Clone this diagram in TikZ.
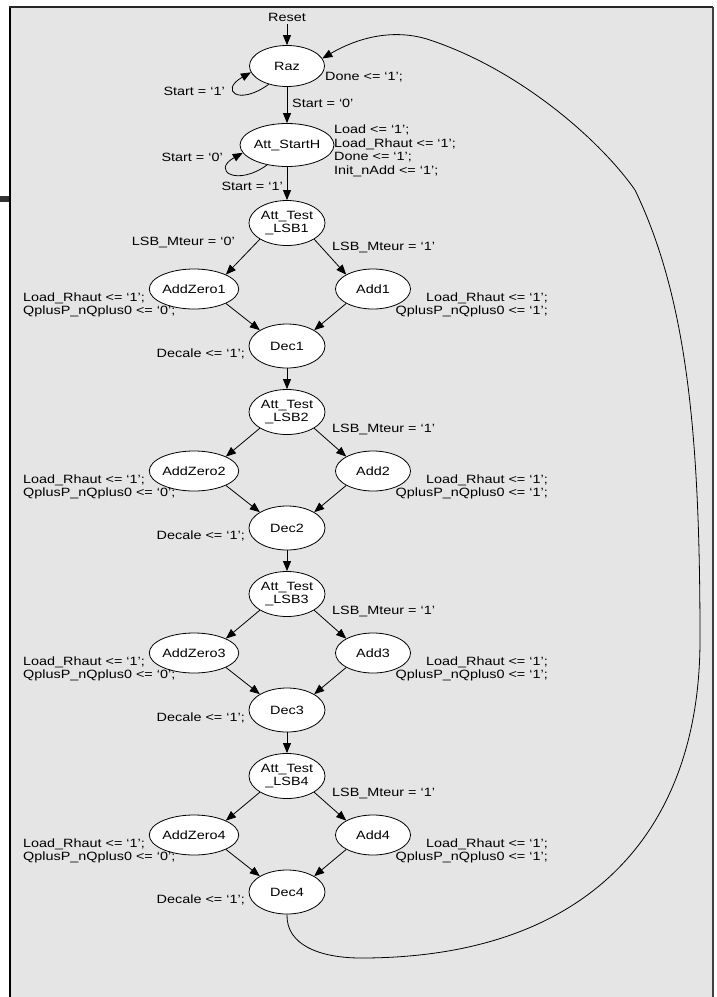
\documentclass[tikz,border=0pt]{standalone}
\usepackage{fontspec}
\setmainfont[FakeStretch=1.2]{Liberation Sans}
\usetikzlibrary{shapes.geometric,arrows.meta}

\begin{document}
\begin{tikzpicture}[x=1pt,y=-1pt,
  state/.style={ellipse,draw,fill=white,line width=0.8pt,inner sep=0pt,
    minimum width=76pt,minimum height=42pt,align=center,
    font=\fontsize{12}{13.5}\selectfont},
  lbl/.style={inner sep=0pt,font=\fontsize{12}{13.5}\selectfont},
  arr/.style={line width=0.8pt,-{Triangle[length=10pt,width=8pt]}}]
\useasboundingbox (0,0) rectangle (716,997);

% sheet frame
\fill[white] (0,0) rectangle (716,997);
\fill[black!10] (10,7) rectangle (713,997);
\fill[black!80] (0,196) rectangle (10,202);
\draw[line width=2.5pt] (10,6) -- (10,997);
\draw[line width=1.5pt,black!85] (9,7) -- (713,7);
\draw[line width=1.2pt,black!75] (713,7) -- (713,997);

% start of the machine
\node[lbl] (reset) at (287,17) {Reset};
\node[state,minimum width=75pt,minimum height=41pt] (raz) at (287,66) {Raz};
\node[state,minimum width=80pt,minimum height=43pt] (att) at (287,145) {Att\_StartH};
\draw[arr,shorten <=3pt] (reset.south) -- (raz.north);
\draw[arr] (raz.south) -- (att.north);

\node[lbl,anchor=west] (razout) at (325,77) {Done <= ‘1’;};
\node[lbl,anchor=west] (r0) at (292,103) {Start = ‘0’};
\node[lbl,anchor=east] (r1) at (225,91) {Start = ‘1’};
\draw[arr] (raz.225) .. controls +(-30,22) and +(-32,18) .. (raz.190);

\node[lbl,anchor=east] (a0) at (223,157) {Start = ‘0’};
\draw[arr] (att.225) .. controls +(-30,22) and +(-32,18) .. (att.190);
\node[lbl,anchor=west,align=left] (attout) at (334,151)
  {Load <= ‘1’;\\Load\_Rhaut <= ‘1’;\\Done <= ‘1’;\\Init\_nAdd <= ‘1’;};
\node[lbl,anchor=east] (a1) at (283,186) {Start = ‘1’};

% four identical test / add / shift stages
\foreach \i/\y/\t in {1/225/223,2/407/412,3/589/594,4/771/776}{
  \node[state,minimum height=45pt] (lsb\i) at (287,\t) {Att\_Test\\\_LSB\i};
  \node[state,minimum width=75pt,minimum height=40pt] (az\i) at (194,\y+64) {AddZero\i};
  \node[state,minimum width=75pt,minimum height=40pt] (ad\i) at (373,\y+64) {Add\i};
  \node[state,minimum height=44pt] (dec\i) at (287,\y+121) {Dec\i};
  \draw[arr] (lsb\i.south west) -- (az\i.north east);
  \draw[arr] (lsb\i.south east) -- (ad\i.north west);
  \draw[arr] (az\i.south east) -- (dec\i.north west);
  \draw[arr] (ad\i.south west) -- (dec\i.north east);
  \node[lbl,anchor=west] (c1\i) at (332,\y+22) {LSB\_Mteur = ‘1’};
  \node[lbl,anchor=west,align=left] (azo\i) at (23,\y+80)
    {Load\_Rhaut <= ‘1’;\\QplusP\_nQplus0 <= ‘0’;};
  \node[lbl,anchor=east,align=right] (ado\i) at (548,\y+80)
    {Load\_Rhaut <= ‘1’;\\QplusP\_nQplus0 <= ‘1’;};
  \node[lbl,anchor=east] (deo\i) at (245,\y+129) {Decale <= ‘1’;};
}
\node[lbl,anchor=east] (c01) at (235,242) {LSB\_Mteur = ‘0’};

\draw[arr] (att.south) -- (lsb1.north);
\draw[arr] (dec1.south) -- (lsb2.north);
\draw[arr] (dec2.south) -- (lsb3.north);
\draw[arr] (dec3.south) -- (lsb4.north);

% return from the last shift to Raz
\draw[arr] (dec4.south) .. controls (286,945) and (320,958) .. (361,958)
  .. controls (590,958) and (700,830) .. (700,640)
  .. controls (700,440) and (688,300) .. (635,190)
  .. controls (600,140) and (520,70) .. (430,40)
  .. controls (385,25) and (345,45) .. (raz.12);
\end{tikzpicture}
\end{document}
